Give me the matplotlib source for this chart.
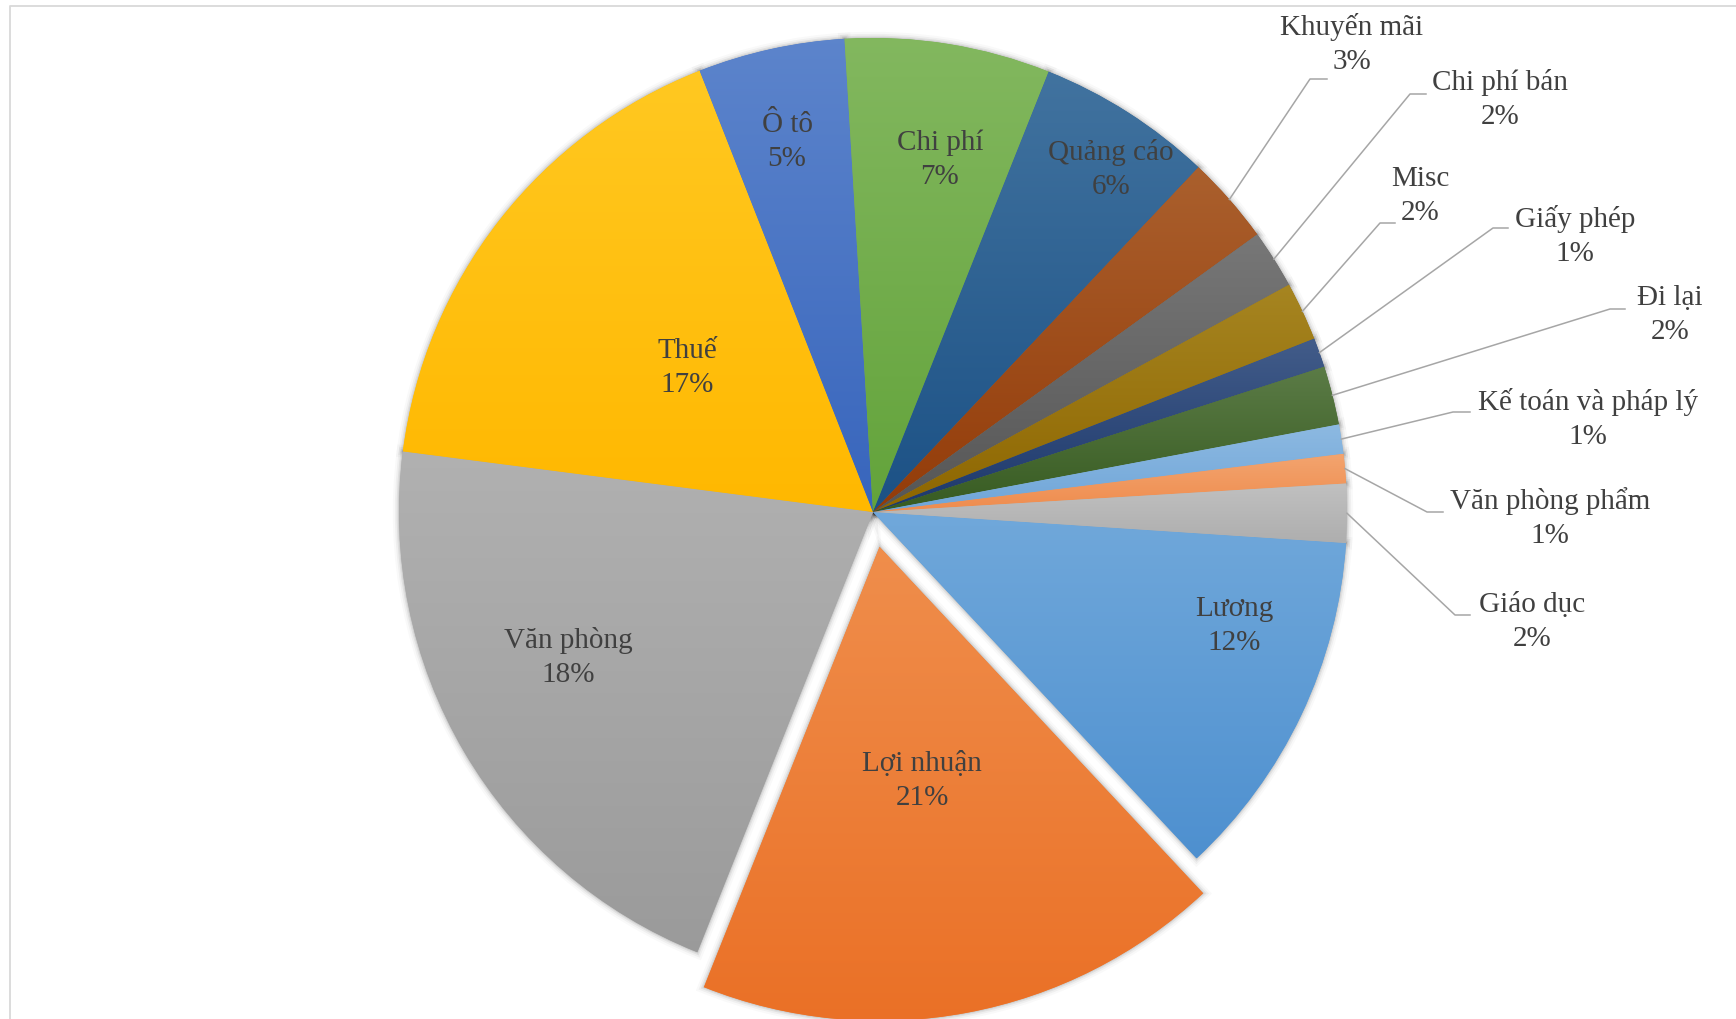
import matplotlib.pyplot as plt
import numpy as np
from matplotlib.colors import to_rgb
from matplotlib.patches import PathPatch

plt.rcParams['font.family'] = ['Liberation Serif', 'DejaVu Serif']

# data (series order as in the source workbook)
categories = ["Lương", "Lợi nhuận", "Văn phòng", "Thuế", "Ô tô", "Chi phí", "Quảng cáo",
              "Khuyến mãi", "Chi phí bán", "Misc", "Giấy phép", "Đi lại",
              "Kế toán và pháp lý", "Văn phòng phẩm", "Giáo dục"]
# slice sizes as drawn in the picture
shares = [12, 18, 21, 17, 5, 7, 6, 3, 2, 2, 1, 2, 1, 1, 2]
# percentages as printed on the labels
pct_labels = ["12%", "21%", "18%", "17%", "5%", "7%", "6%", "3%", "2%", "2%", "1%", "2%",
              "1%", "1%", "2%"]
colors = ["#5B9BD5", "#ED7D31", "#A5A5A5", "#FFC000", "#4472C4", "#70AD47", "#255E91",
          "#9E480E", "#636363", "#997300", "#264478", "#43682B", "#7CAFDD", "#F1975A", "#B7B7B7"]

# layout (pixel coordinates, measured from top-left of the image)
W, H = 1736, 1020
cx, cy, R = 873, 513, 474
explode_px = [0, 35.5] + [0] * 13
inner_pos = {"Lương": (1234, 626), "Lợi nhuận": (922, 781), "Văn phòng": (568, 658),
             "Thuế": (687, 368), "Ô tô": (787, 142), "Chi phí": (940, 160),
             "Quảng cáo": (1111, 169)}
# text centre, elbow, end of horizontal tick
outer_pos = {"Khuyến mãi": ((1352, 44), (1310, 80), (1327, 80)),
             "Chi phí bán": ((1500, 100), (1410, 95), (1426, 95)),
             "Misc": ((1420, 196), (1380, 224), (1395, 224)),
             "Giấy phép": ((1575, 236), (1493, 229), (1508, 229)),
             "Đi lại": ((1670, 315), (1610, 310), (1625, 310)),
             "Kế toán và pháp lý": ((1588, 419), (1453, 413), (1470, 413)),
             "Văn phòng phẩm": ((1550, 518), (1427, 513), (1443, 513)),
             "Giáo dục": ((1532, 622), (1455, 616), (1470, 616))}


def fy(y):
    return H - y


fig = plt.figure(figsize=(W / 100, H / 100), dpi=100)
ax = fig.add_axes([0, 0, 1, 1])

wedges, _ = ax.pie(shares, colors=colors, startangle=90 - 93.75, counterclock=False,
                   radius=R, center=(cx, fy(cy)), explode=explode_px,
                   wedgeprops=dict(linewidth=0))

# soft shadow round every slice
for w in wedges:
    for lw, a in [(9, 0.025), (6, 0.04), (3.5, 0.06), (1.5, 0.08)]:
        ax.add_patch(PathPatch(w.get_path(), facecolor='none', edgecolor='black',
                               lw=lw, alpha=a, zorder=0.5))

# vertical gradient fill (lighter at the top, richer at the bottom)
for w, c in zip(wedges, colors):
    base = np.array(to_rgb(c))
    top = base + (1 - base) * 0.13
    bot = base ** 1.15
    t = np.linspace(0, 1, 200)[:, None]
    grad = (bot[None, :] * (1 - t) + top[None, :] * t)[:, None, :]
    ext = w.get_path().get_extents()
    im = ax.imshow(grad, extent=[ext.x0, ext.x1, ext.y0, ext.y1], origin='lower',
                   aspect='auto', interpolation='bilinear', zorder=1.5)
    im.set_clip_path(w)

txt_kw = dict(ha='center', va='center', fontsize=21, color='#404040',
              linespacing=1.4, zorder=5)
for name, pct, w in zip(categories, pct_labels, wedges):
    label = f"{name}\n{pct}"
    if name in inner_pos:
        x, y = inner_pos[name]
        ax.text(x, fy(y), label, **txt_kw)
    else:
        (tx, ty), (ex, ey), (hx, hy) = outer_pos[name]
        mid = np.deg2rad((w.theta1 + w.theta2) / 2)
        sx = cx + R * np.cos(mid)
        sy = fy(cy) + R * np.sin(mid)
        ax.plot([sx, ex, hx], [sy, fy(ey), fy(hy)], color='#A6A6A6', lw=1.1, zorder=4)
        ax.text(tx, fy(ty), label, **txt_kw)

# chart area frame (cut at right and bottom)
ax.plot([9.5, 9.5, W + 5], [-5, fy(7), fy(7)], color='#D9D9D9', lw=1.3, zorder=6)

ax.set_xlim(0, W)
ax.set_ylim(0, H)
ax.set_aspect('equal')
ax.axis('off')

fig.savefig("out.png", dpi=100, facecolor='white')
